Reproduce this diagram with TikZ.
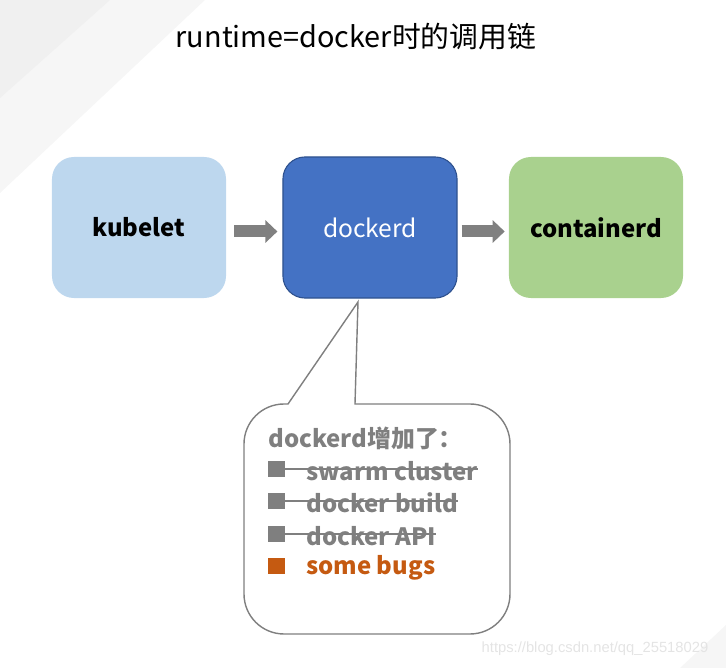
\documentclass[tikz,border=0pt]{standalone}
\usepackage{fontspec}
\setmainfont{Noto Sans CJK SC}
\newfontfamily\markfont{Liberation Sans}
\usetikzlibrary{arrows.meta}
\definecolor{kubefill}{HTML}{BDD7EE}
\definecolor{dockfill}{HTML}{4472C4}
\definecolor{dockline}{HTML}{2F528F}
\definecolor{ctrdfill}{HTML}{A9D18E}
\definecolor{arrowgray}{HTML}{808080}
\definecolor{notegray}{HTML}{7F7F7F}
\definecolor{bugorange}{HTML}{C55A11}
\definecolor{shadea}{HTML}{F0F0F0}
\definecolor{shadeb}{HTML}{F6F6F6}
\definecolor{markgray}{HTML}{E4E4E4}

\begin{document}
\begin{tikzpicture}[x=0.025cm, y=-0.025cm,
	box/.style={rounded corners=0.55cm, minimum width=4.35cm, minimum height=3.525cm, font=\fontsize{17}{19}\selectfont\bfseries},
	blockarrow/.style={draw=arrowgray, line width=0.3cm, -{Triangle[length=0.3cm, width=0.55cm]}, shorten <=0.2cm, shorten >=0.125cm},
	bullet/.style={anchor=west, minimum width=0.42cm, minimum height=0.4cm, inner sep=0pt},
	item/.style={anchor=west, inner sep=0pt, font=\fontsize{17}{20}\selectfont\bfseries}]
			\useasboundingbox (0, 0) rectangle (726, 668);
			\fill[shadeb] (0, 0) -- (205, 0) -- (0, 193) -- cycle;
			\fill[shadea] (0, 0) -- (110, 0) -- (0, 98) -- cycle;
			\fill[shadeb] (726, 625) -- (726, 668) -- (680, 668) -- cycle;
			\draw (356, 37) node [font=\fontsize{20.5}{24}\selectfont] (title) {runtime=docker时的调用链};
			\draw (139, 227.5) node [box, fill=kubefill] (kubelet) {kubelet};
			\draw (370, 227.5) node [box, fill=dockfill, draw=dockline, line width=0.8pt, text=white, font=\fontsize{17.5}{19}\selectfont] (dockerd) {dockerd};
			\draw (596, 227.5) node [box, fill=ctrdfill] (containerd) {containerd};
			\path ([yshift=-0.1cm]kubelet.east) edge [blockarrow] ([yshift=-0.1cm]dockerd.west);
			\path ([yshift=-0.1cm]dockerd.east) edge [blockarrow, shorten <=0.1cm, shorten >=0.1cm] ([yshift=-0.1cm]containerd.west);
			\coordinate (tip) at (358, 302);
			\draw[notegray, line width=1pt, fill=white] (288, 404) -- (tip) -- (355, 404)
				{[rounded corners=1cm] -- (510, 404) -- (510, 634) -- (244, 634) -- (244, 404)} -- cycle;
			\draw (268, 438) node [item, text=notegray] (head) {dockerd增加了：};
			\draw (268, 469) node [bullet, fill=notegray] (b1) {};
			\draw (306, 471) node [item, text=notegray] (t1) {swarm cluster};
			\draw (268, 501) node [bullet, fill=notegray] (b2) {};
			\draw (306, 503) node [item, text=notegray] (t2) {docker build};
			\draw (268, 534) node [bullet, fill=notegray] (b3) {};
			\draw (306, 536) node [item, text=notegray] (t3) {docker API};
			\draw (268, 566) node [bullet, fill=bugorange] (b4) {};
			\draw (306, 568) node [item, text=bugorange] (t4) {some bugs};
			\draw[notegray, line width=1pt] (b1.west) -- (b1.west -| t1.east);
			\draw[notegray, line width=1pt] (b2.west) -- (b2.west -| t2.east);
			\draw[notegray, line width=1pt] (b3.west) -- (b3.west -| t3.east);
			\draw (595, 649) node [text=markgray, font=\markfont\fontsize{10.5}{12}\selectfont] (mark) {https://blog.csdn.net/qq\_25518029};
		\end{tikzpicture}
\end{document}
